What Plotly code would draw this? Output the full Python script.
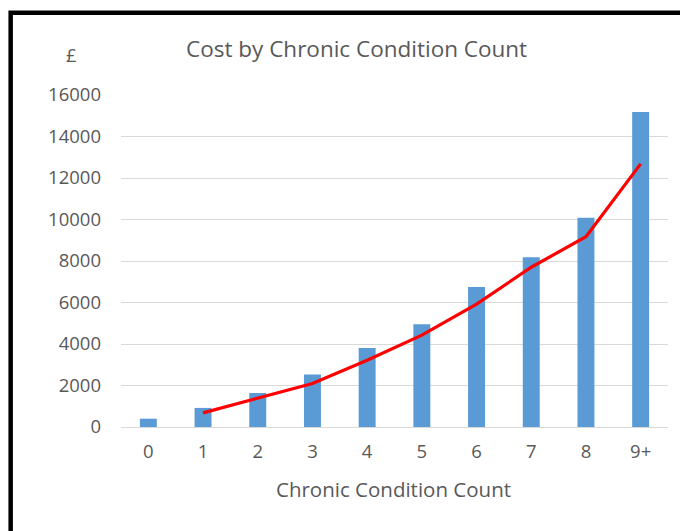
import plotly.graph_objects as go

categories = ["0", "1", "2", "3", "4", "5", "6", "7", "8", "9+"]
cost_values = [400, 920, 1640, 2530, 3810, 4950, 6750, 8180, 10080, 15180]
trend_categories = ["1", "2", "3", "4", "5", "6", "7", "8", "9+"]
trend_values = [680, 1400, 2100, 3220, 4430, 5920, 7700, 9170, 12680]
y_ticks = [0, 2000, 4000, 6000, 8000, 10000, 12000, 14000, 16000]

FONT = "Open Sans"
GREY = "#595959"

fig = go.Figure()
fig.add_trace(go.Bar(x=categories, y=cost_values, marker=dict(color="#5b9bd5", line=dict(width=0)),
                     width=0.31, showlegend=False))
fig.add_trace(go.Scatter(x=trend_categories, y=trend_values, mode="lines",
                         line=dict(color="#ff0000", width=3.2), showlegend=False))

fig.update_layout(
    width=680, height=523,
    margin=dict(l=113, r=20, t=87, b=104),
    paper_bgcolor="white", plot_bgcolor="white",
    font=dict(family=FONT, color=GREY, size=18),
    xaxis=dict(type="category", range=[-0.5, 9.5], showgrid=False, showline=False,
               zeroline=False, ticks="", ticklabelstandoff=11,
               tickfont=dict(size=18.5, color=GREY)),
    yaxis=dict(range=[0, 16000], tickvals=y_ticks, ticktext=[str(v) for v in y_ticks],
               showgrid=True, gridcolor="#d9d9d9", gridwidth=1, zeroline=True,
               zerolinecolor="#d9d9d9", zerolinewidth=1, showline=False, ticks="",
               ticklabelstandoff=19, tickfont=dict(size=18.5, color=GREY)),
    annotations=[
        dict(text="Cost by Chronic Condition Count", xref="paper", yref="paper",
             x=0.43, y=1.14, xanchor="center", yanchor="middle", showarrow=False,
             font=dict(size=22.5, color=GREY, family=FONT)),
        dict(text="£", xref="paper", yref="paper", x=-0.09, y=1.1216,
             xanchor="center", yanchor="middle", showarrow=False,
             font=dict(size=18.5, color=GREY, family=FONT)),
        dict(text="Chronic Condition Count", xref="paper", yref="paper",
             x=0.4985, y=-0.188, xanchor="center", yanchor="middle", showarrow=False,
             font=dict(size=20.5, color=GREY, family=FONT)),
    ],
    shapes=[
        dict(type="path", xref="paper", yref="paper",
             path="M -0.2017,-0.35 L -0.2017,1.2479 L 1.05,1.2479",
             line=dict(color="black", width=4.5)),
    ],
)

fig.write_html("out.html")
